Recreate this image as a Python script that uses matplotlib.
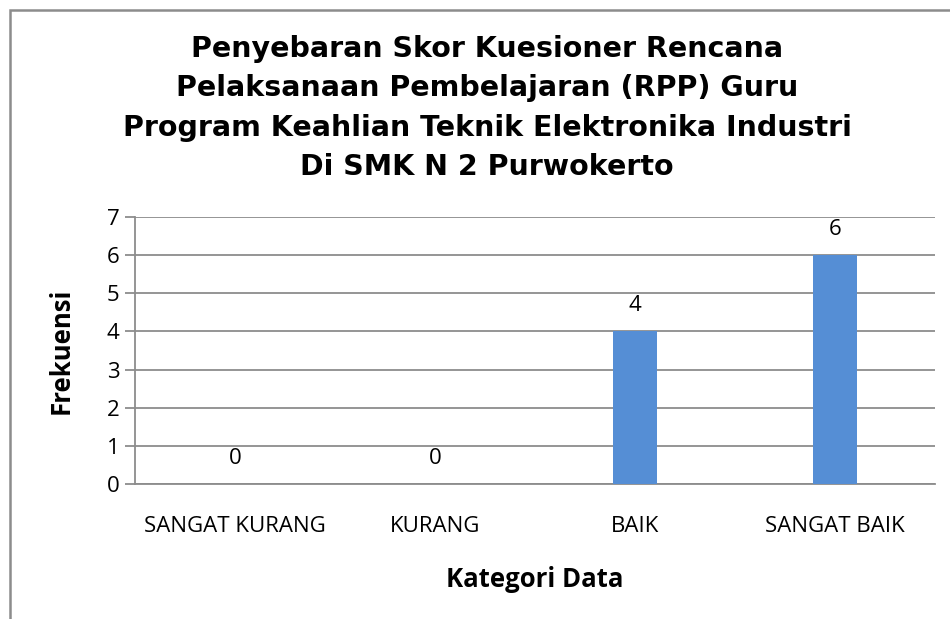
import matplotlib.pyplot as plt
from matplotlib.patches import Rectangle

# data
kategori = ['SANGAT KURANG', 'KURANG', 'BAIK', 'SANGAT BAIK']
frekuensi = [0, 0, 4, 6]
judul = ('Penyebaran Skor Kuesioner Rencana\n'
         'Pelaksanaan Pembelajaran (RPP) Guru\n'
         'Program Keahlian Teknik Elektronika Industri\n'
         'Di SMK N 2 Purwokerto')

grey = '#8c8c8c'
fig = plt.figure(figsize=(9.5, 6.19), dpi=100)

# chart frame (cut off at right and bottom)
fig.patches.append(Rectangle((10/950, -0.1), 1.2, 1 - 10/619 + 0.1,
                             transform=fig.transFigure, fill=False,
                             edgecolor=grey, linewidth=1.8))

ax = fig.add_axes([135/950, 1 - 484/619, 800/950, 267/619])
x = range(len(kategori))
ax.bar(x, frekuensi, width=0.22, color='#558ed5', zorder=3)
for i, v in zip(x, frekuensi):
    ax.annotate(str(v), (i, v), xytext=(0, 18.5), textcoords='offset points',
                ha='center', va='center', fontsize=16, family='Open Sans')

ax.set_xlim(-0.5, len(kategori) - 0.5)
ax.set_ylim(0, 7)
ax.set_yticks(range(8))
ax.yaxis.grid(True, color=grey, linewidth=1.3, zorder=0)
ax.set_xticks(list(x))
ax.set_xticklabels(kategori)
for s in ['top', 'right']:
    ax.spines[s].set_visible(False)
for s in ['left', 'bottom']:
    ax.spines[s].set_color(grey)
    ax.spines[s].set_linewidth(1.3)
ax.tick_params(axis='y', length=7, color=grey, width=1.3, labelsize=16, pad=4)
ax.tick_params(axis='x', length=0, labelsize=16, pad=23)
for lab in ax.get_xticklabels() + ax.get_yticklabels():
    lab.set_family('Open Sans')

ax.set_xlabel('Kategori Data', fontsize=18.5, fontweight='bold', family='Open Sans', labelpad=21)
ax.set_ylabel('Frekuensi', fontsize=18.5, fontweight='bold', family='Open Sans', labelpad=23)

fig.text(487/950, 1 - 108/619, judul, ha='center', va='center', fontsize=20.5,
         fontweight='bold', family='DejaVu Sans', linespacing=1.52)

fig.savefig('out.png', dpi=100)
